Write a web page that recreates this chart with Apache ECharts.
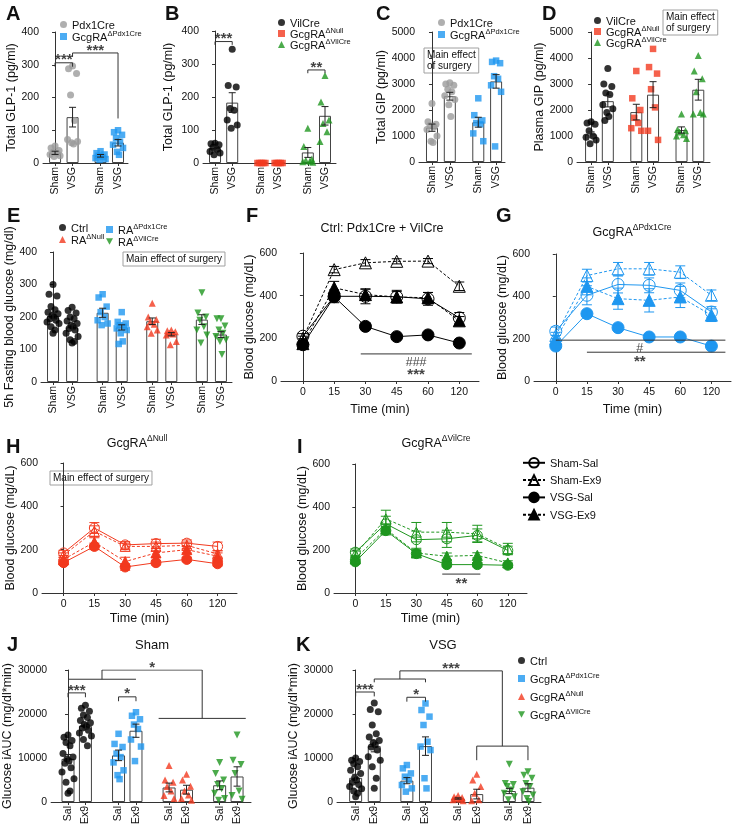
<!DOCTYPE html>
<html>
<head>
<meta charset="utf-8">
<script src="https://cdn.jsdelivr.net/npm/echarts@6/dist/echarts.min.js"></script>
<style>
  html, body { margin: 0; padding: 0; background: #fff; }
  #main { width: 734px; height: 839px; }
</style>
</head>
<body>
<div id="main"></div>
<script>
// ---------- data ----------
const surgery = ['Sham', 'VSG'];
const treatment = ['Sal', 'Ex9'];
const minutes = ['0', '15', '30', '45', '60', '120'];

// A: total GLP-1 (pg/ml)
const aNames = ['Pdx1Cre', 'GcgRAΔPdx1Cre'];
const aMean = [[31, 140], [22, 62]];
const aSem = [[5, 30], [4, 10]];
const aDots = [
  [[52, 46, 38, 33, 30, 26, 22, 20], [296, 288, 273, 208, 130, 72, 66, 62, 58]],
  [[36, 30, 26, 22, 18, 15, 12, 10], [100, 94, 86, 76, 65, 56, 46, 34, 25]]
];

// B: total GLP-1 (pg/ml)
const bNames = ['VilCre', 'GcgRAΔNull', 'GcgRAΔVilCre'];
const bMean = [[45, 183], [0, 0], [32, 143]];
const bSem = [[6, 30], [0, 0], [15, 28]];
const bDots = [
  [[60, 58, 55, 48, 42, 35, 30, 25], [345, 235, 230, 165, 160, 130, 115, 105]],
  [[0, 0, 0, 0, 0], [0, 0, 0, 0, 0]],
  [[105, 50, 12, 8, 5, 4, 2], [265, 185, 130, 120, 95, 65]]
];

// C: total GIP (pg/ml)
const cNames = ['Pdx1Cre', 'GcgRAΔPdx1Cre'];
const cMean = [[1320, 2530], [1530, 3100]];
const cSem = [[140, 150], [190, 260]];
const cDots = [
  [[2250, 1550, 1450, 1400, 1350, 1250, 1000, 800, 750], [3050, 3000, 2950, 2800, 2700, 2550, 2400, 2200, 1750]],
  [[2450, 1800, 1600, 1500, 1450, 1100, 800], [3900, 3850, 3800, 3300, 3200, 2950, 2700, 600]]
];

// D: plasma GIP (pg/ml)
const dNames = ['VilCre', 'GcgRAΔNull', 'GcgRAΔVilCre'];
const dMean = [[1060, 2340], [1920, 2590], [1230, 2780]];
const dSem = [[100, 220], [300, 500], [120, 400]];
const dDots = [
  [[1550, 1500, 1450, 1200, 1000, 950, 850, 700], [3600, 3000, 2900, 2650, 2600, 2200, 2050, 1900, 1750, 1600]],
  [[3500, 2450, 2000, 1700, 1500, 1300, 1200], [4350, 3650, 3400, 2800, 2100, 1200, 850]],
  [[1850, 1250, 1200, 1150, 1050, 1000, 900], [4100, 3500, 3200, 2700, 1900, 1850, 1850]]
];

// E: 5h fasting blood glucose (mg/dl)
const eNames = ['Ctrl', 'RAΔPdx1Cre', 'RAΔNull', 'RAΔVilCre'];
const eMean = [[203, 168], [213, 168], [187, 147], [192, 146]];
const eSem = [[10, 8], [14, 8], [10, 5], [15, 9]];
const eDots = [
  [[300, 270, 265, 232, 222, 215, 210, 205, 200, 195, 190, 185, 180, 170, 160, 150],
   [230, 220, 212, 200, 195, 188, 180, 175, 170, 165, 160, 150, 140, 130, 125, 120]],
  [[270, 260, 232, 215, 200, 190, 180, 175], [215, 185, 180, 175, 170, 165, 160, 150, 125, 117]],
  [[242, 200, 192, 185, 178, 170, 160, 150], [160, 158, 155, 150, 148, 145, 125, 115]],
  [[275, 212, 200, 190, 170, 160, 145, 120], [195, 195, 172, 160, 150, 140, 130, 125, 85]]
];

// F-I: blood glucose (mg/dL) over time; order Sham-Sal, Sham-Ex9, VSG-Sal, VSG-Ex9
const fMean = [[210, 397, 397, 395, 385, 296], [200, 522, 554, 561, 562, 444],
               [170, 395, 256, 208, 216, 178], [175, 437, 405, 394, 390, 282]];
const fSem = [[12, 30, 35, 30, 30, 25], [10, 15, 15, 12, 12, 20],
              [8, 15, 15, 10, 10, 8], [10, 30, 25, 25, 25, 20]];
const gMean = [[235, 405, 456, 452, 428, 326], [215, 498, 530, 530, 514, 405],
               [165, 318, 252, 208, 208, 165], [200, 447, 389, 381, 397, 311]];
const gSem = [[20, 45, 40, 35, 35, 25], [15, 30, 30, 30, 30, 25],
              [10, 12, 12, 10, 10, 8], [15, 40, 50, 55, 50, 30]];
const hMean = [[185, 300, 222, 228, 230, 215], [175, 285, 215, 215, 220, 180],
               [140, 215, 120, 140, 155, 135], [155, 235, 145, 185, 200, 170]];
const hSem = [[12, 25, 15, 20, 15, 20], [10, 25, 15, 20, 15, 15],
              [10, 15, 15, 10, 10, 10], [10, 20, 20, 20, 15, 15]];
const iMean = [[190, 322, 248, 252, 268, 198], [180, 345, 283, 283, 275, 206],
               [145, 290, 183, 132, 132, 129], [160, 298, 186, 171, 175, 140]];
const iSem = [[15, 35, 40, 40, 30, 20], [15, 40, 45, 45, 40, 25],
              [10, 20, 15, 10, 10, 10], [10, 20, 15, 15, 12, 10]];

// J, K: glucose iAUC (mg/dl*min)
const jkNames = ['Ctrl', 'GcgRAΔPdx1Cre', 'GcgRAΔNull', 'GcgRAΔVilCre'];
const jMean = [[9800, 17300], [10600, 16200], [3300, 2800], [3800, 5800]];
const jSem = [[1000, 700], [1200, 1500], [1000, 1000], [1000, 2200]];
const jDots = [
  [[15200, 14700, 14000, 13500, 12800, 11000, 10200, 9800, 9300, 8800, 7800, 6800, 5300, 4500, 2500, 2000],
   [22000, 21300, 20600, 19800, 19200, 18500, 18000, 17600, 17200, 16800, 16300, 15700, 15000, 14200, 12800]],
  [[15500, 13200, 12500, 11000, 10200, 9000, 7200, 6100, 5200], [20400, 19600, 18800, 17600, 16600, 14200, 12600, 9300]],
  [[8300, 5000, 4500, 3500, 2500, 1500, 800], [6300, 5000, 3600, 2500, 1600, 800, 400]],
  [[9000, 6500, 5000, 4000, 3000, 2000, 800, 400], [15200, 9500, 8500, 6500, 2500, 1500, 600]]
];
const kMean = [[5500, 12700], [4850, 12700], [800, 1800], [2500, 3250]];
const kSem = [[800, 1300], [700, 2100], [150, 1100], [600, 900]];
const kDots = [
  [[10000, 9500, 9200, 8700, 8000, 7200, 6500, 5500, 5000, 4500, 4000, 3500, 3000, 2500, 2000, 1200],
   [22500, 21000, 20500, 17500, 15500, 14800, 14000, 13500, 13000, 12500, 11800, 10300, 9500, 8000, 5400, 3100]],
  [[8400, 7650, 6500, 5750, 5000, 3860, 3100, 2350], [22400, 20900, 19400, 17500, 13700, 12600, 11800, 5400, 3100]],
  [[1500, 1200, 1000, 800, 600, 500, 300], [6300, 5000, 3500, 2000, 500, 300]],
  [[8600, 4200, 4000, 3500, 2700, 2000, 1200, 500], [6900, 6100, 5400, 4200, 3500, 2350, 1600, 800, 100]]
];

// ---------- styling ----------
const FONT = '"Liberation Sans", Arial, sans-serif';
const BLACK = '#000000', GRAY = '#9b9b9b', BLUE = '#1f97f0', RED = '#f23a1f', GREEN = '#1f961f';
const AXIS = '#333';
const TRI_DOWN = 'path://M0,0L10,0L5,9Z';
const RICH = {
  n: { fontSize: 11, fontFamily: FONT, color: '#111', lineHeight: 13, verticalAlign: 'bottom' },
  s: { fontSize: 7.5, fontFamily: FONT, color: '#111', lineHeight: 8, verticalAlign: 'top' }
};
const RICH_T = {
  n: { fontSize: 12.5, fontFamily: FONT, color: '#111', lineHeight: 16, verticalAlign: 'bottom' },
  s: { fontSize: 8.5, fontFamily: FONT, color: '#111', lineHeight: 9, verticalAlign: 'top' }
};
const JIT = [0, -4, 4, -2, 2, -5, 5, -1, 1, -3, 3, -6, 6, -2, 2, 0];

function richName(name) {
  const s = name.replace(/^[A-K]:/, '');
  const k = s.indexOf('Δ');
  return k < 0 ? '{n|' + s + '}' : '{n|' + s.slice(0, k) + '}{s|' + s.slice(k) + '}';
}

const option = {
  animation: false,
  backgroundColor: '#fff',
  textStyle: { fontFamily: FONT, color: '#111' },
  grid: [], xAxis: [], yAxis: [], series: [], legend: [], graphic: []
};

function addGrid(box) {
  option.grid.push({ left: box[0], top: box[1], width: box[2], height: box[3], containLabel: false });
  return option.grid.length - 1;
}

function addYAxis(gi, max, step, name, gap) {
  option.yAxis.push({
    gridIndex: gi, type: 'value', min: 0, max: max, interval: step,
    name: name, nameLocation: 'middle', nameGap: gap,
    nameTextStyle: { fontSize: 12.5, color: '#111', fontFamily: FONT },
    axisLine: { show: true, lineStyle: { color: AXIS, width: 1 } },
    axisTick: { show: true, length: 3, lineStyle: { color: AXIS } },
    axisLabel: { fontSize: 10.5, color: '#111', margin: 4, fontFamily: FONT, formatter: function (v) { return String(v); } },
    splitLine: { show: false }
  });
}

function symbolOf(s) {
  return s === 'tridown' ? TRI_DOWN : s;
}

function errorBars(cap, color, width) {
  return function (params, api) {
    const top = api.coord([api.value(0), api.value(2)]);
    const bot = api.coord([api.value(0), api.value(1)]);
    const h = cap / 2;
    const st = { stroke: color, lineWidth: width };
    return {
      type: 'group', children: [
        { type: 'line', shape: { x1: top[0], y1: top[1], x2: bot[0], y2: bot[1] }, style: st },
        { type: 'line', shape: { x1: top[0] - h, y1: top[1], x2: top[0] + h, y2: top[1] }, style: st },
        { type: 'line', shape: { x1: bot[0] - h, y1: bot[1], x2: bot[0] + h, y2: bot[1] }, style: st }
      ]
    };
  };
}

function addNotes(gi, paths, notes) {
  option.series.push({
    type: 'lines', coordinateSystem: 'cartesian2d', xAxisIndex: gi, yAxisIndex: gi,
    polyline: true, silent: true, z: 6,
    lineStyle: { color: '#333', width: 1, opacity: 1 },
    data: paths.map(function (c) { return { coords: c }; })
  });
  option.series.push({
    type: 'scatter', xAxisIndex: gi, yAxisIndex: gi, silent: true, z: 6,
    symbolSize: 0, itemStyle: { color: 'transparent' },
    data: notes.map(function (n) {
      return {
        value: [n.x, n.y],
        label: {
          show: true, formatter: n.t, position: n.below ? 'bottom' : 'top',
          distance: n.below ? 2 : -5, fontSize: n.t.indexOf('#') >= 0 ? 12.5 : 15,
          fontWeight: n.t.indexOf('#') >= 0 ? 'normal' : 'bold', color: '#111', fontFamily: FONT
        }
      };
    })
  });
}

// bar + dot panels
function dotBarPanel(cfg) {
  const gi = addGrid(cfg.box);
  const pos = [], labels = {};
  cfg.mean.forEach(function (grp, g) {
    grp.forEach(function (m, i) {
      const p = +(g * (grp.length + cfg.gap) + i).toFixed(2);
      pos.push(p);
      labels[p.toFixed(2)] = cfg.sub[i];
    });
  });
  option.xAxis.push({
    gridIndex: gi, type: 'value', min: -cfg.padL, max: pos[pos.length - 1] + cfg.padR,
    axisLine: { show: true, onZero: false, lineStyle: { color: AXIS, width: 1 } },
    axisTick: { show: true, length: 3, customValues: pos, lineStyle: { color: AXIS } },
    axisLabel: {
      customValues: pos, rotate: 90, fontSize: 10.5, color: '#111', margin: 4, fontFamily: FONT,
      formatter: function (v) { return labels[(+v).toFixed(2)] || ''; }
    },
    splitLine: { show: false }
  });
  addYAxis(gi, cfg.yMax, cfg.yStep, cfg.yName, cfg.nameGap);

  const barData = [], errData = [];
  let k = 0;
  cfg.mean.forEach(function (grp, g) {
    grp.forEach(function (m, i) {
      barData.push([pos[k], m]);
      const e = cfg.sem[g][i];
      if (e > 0) errData.push([pos[k], m - e, m + e]);
      k++;
    });
  });
  option.series.push({
    type: 'bar', xAxisIndex: gi, yAxisIndex: gi, data: barData, barWidth: cfg.barWidth || 12,
    itemStyle: { color: '#fff', borderColor: '#444', borderWidth: 1 }, silent: true, z: 1
  });
  cfg.dots.forEach(function (grp, g) {
    const data = [];
    grp.forEach(function (vals, i) {
      const p = pos[g * grp.length + i];
      vals.forEach(function (v, j) { data.push({ value: [p, v], symbolOffset: [JIT[j % JIT.length], 0] }); });
    });
    option.series.push({
      type: 'scatter', name: cfg.key + ':' + cfg.names[g], xAxisIndex: gi, yAxisIndex: gi,
      data: data, symbol: symbolOf(cfg.symbols[g]),
      symbolSize: cfg.symbols[g] === 'rect' ? 6.5 : 7,
      itemStyle: { color: cfg.colors[g] }, z: 2, silent: true
    });
  });
  option.series.push({
    type: 'custom', xAxisIndex: gi, yAxisIndex: gi, data: errData, z: 3, silent: true,
    encode: { x: 0, y: [1, 2] }, renderItem: errorBars(7, '#222', 1)
  });
  return { gi: gi, pos: pos };
}

const lineKinds = [
  { name: 'Sham-Sal', symbol: 'circle', filled: false, dashed: false },
  { name: 'Sham-Ex9', symbol: 'triangle', filled: false, dashed: true },
  { name: 'VSG-Sal', symbol: 'circle', filled: true, dashed: false },
  { name: 'VSG-Ex9', symbol: 'triangle', filled: true, dashed: true }
];

function linePanel(cfg) {
  const gi = addGrid(cfg.box);
  const ticks = minutes.map(function (m, i) { return i; });
  option.xAxis.push({
    gridIndex: gi, type: 'value', min: -0.7, max: 5.63,
    name: 'Time (min)', nameLocation: 'middle', nameGap: cfg.xGap,
    nameTextStyle: { fontSize: 12.5, color: '#111', fontFamily: FONT },
    axisLine: { show: true, onZero: false, lineStyle: { color: AXIS, width: 1 } },
    axisTick: { show: true, length: 3, customValues: ticks, lineStyle: { color: AXIS } },
    axisLabel: {
      customValues: ticks, fontSize: 10.5, color: '#111', margin: 6, fontFamily: FONT,
      formatter: function (v) { return minutes[Math.round(v)]; }
    },
    splitLine: { show: false }
  });
  addYAxis(gi, 600, 200, 'Blood glucose (mg/dL)', cfg.nameGap);
  lineKinds.forEach(function (kind, s) {
    option.series.push({
      type: 'line', name: cfg.key + ':' + kind.name, xAxisIndex: gi, yAxisIndex: gi,
      data: cfg.mean[s].map(function (v, i) { return [i, v]; }),
      symbol: kind.symbol, symbolSize: cfg.size, showAllSymbol: true,
      lineStyle: { color: cfg.color, width: 1, type: kind.dashed ? [3, 2] : 'solid' },
      itemStyle: { color: kind.filled ? cfg.color : 'rgba(255,255,255,0)', borderColor: cfg.color, borderWidth: 1 },
      z: kind.filled ? 3 : 2, silent: true
    });
    option.series.push({
      type: 'custom', xAxisIndex: gi, yAxisIndex: gi, z: 4, silent: true,
      data: cfg.mean[s].map(function (v, i) { return [i, v - cfg.sem[s][i], v + cfg.sem[s][i]]; }),
      encode: { x: 0, y: [1, 2] }, renderItem: errorBars(10, cfg.color, 1)
    });
  });
  return gi;
}

function pair(pos, a, b, y, ya, yb) {
  return [[pos[a], ya], [pos[a], y], [pos[b], y], [pos[b], yb]];
}

function addLegend(names, left, top, gap, extra) {
  option.legend.push(Object.assign({
    orient: 'vertical', left: left, top: top, itemGap: gap, itemWidth: 7, itemHeight: 7,
    data: names, formatter: richName, selectedMode: false, padding: 0,
    textStyle: { fontSize: 11, color: '#111', rich: RICH }
  }, extra || {}));
}

function addText(x, y, text, font, align, rich) {
  option.graphic.push({
    type: 'text', x: x, y: y, silent: true,
    style: { text: text, font: font, fill: '#111', textAlign: align || 'left', textVerticalAlign: 'top', rich: rich }
  });
}

function addBox(x, y, text) {
  option.graphic.push({
    type: 'text', x: x, y: y, silent: true,
    style: {
      text: text, font: '10px ' + FONT, fill: '#111', lineHeight: 11,
      padding: [2, 3, 1, 3], borderColor: '#a0a0a0', borderWidth: 1
    }
  });
}

// ---------- panels ----------
const A = dotBarPanel({ key: 'A', box: [43, 32, 85, 131], gap: 0.6, padL: 0.69, padR: 0.57,
  sub: surgery, names: aNames, mean: aMean, sem: aSem, dots: aDots,
  colors: [GRAY, BLUE], symbols: ['circle', 'rect'], yMax: 400, yStep: 100, yName: 'Total GLP-1 (pg/ml)', nameGap: 24 });
addNotes(A.gi, [pair(A.pos, 0, 1, 306, 294, 294), pair(A.pos, 1, 3, 336, 324, 136)],
  [{ x: (A.pos[0] + A.pos[1]) / 2, y: 306, t: '***' }, { x: (A.pos[1] + A.pos[3]) / 2, y: 336, t: '***' }]);

const B = dotBarPanel({ key: 'B', box: [203, 31, 133, 132], gap: 0.7, padL: 0.7, padR: 0.64,
  sub: surgery, names: bNames, mean: bMean, sem: bSem, dots: bDots,
  colors: [BLACK, RED, GREEN], symbols: ['circle', 'rect', 'triangle'], yMax: 400, yStep: 100, yName: 'Total GLP-1 (pg/ml)', nameGap: 28 });
addNotes(B.gi, [pair(B.pos, 0, 1, 368, 358, 358), pair(B.pos, 4, 5, 282, 272, 272)],
  [{ x: (B.pos[0] + B.pos[1]) / 2, y: 368, t: '***' }, { x: (B.pos[4] + B.pos[5]) / 2, y: 282, t: '**' }]);

dotBarPanel({ key: 'C', box: [419, 32, 86, 130], gap: 0.6, padL: 0.73, padR: 0.5,
  sub: surgery, names: cNames, mean: cMean, sem: cSem, dots: cDots,
  colors: [GRAY, BLUE], symbols: ['circle', 'rect'], yMax: 5000, yStep: 1000, yName: 'Total GIP (pg/ml)', nameGap: 30 });

dotBarPanel({ key: 'D', box: [577, 32, 133, 130], gap: 0.7, padL: 0.84, padR: 0.7,
  sub: surgery, names: dNames, mean: dMean, sem: dSem, dots: dDots,
  colors: [BLACK, RED, GREEN], symbols: ['circle', 'rect', 'triangle'], yMax: 5000, yStep: 1000, yName: 'Plasma GIP (pg/ml)', nameGap: 30 });

dotBarPanel({ key: 'E', box: [41, 252, 191, 130], gap: 0.6, padL: 0.63, padR: 0.58,
  sub: surgery, names: eNames, mean: eMean, sem: eSem, dots: eDots,
  colors: [BLACK, BLUE, RED, GREEN], symbols: ['circle', 'rect', 'triangle', 'tridown'],
  yMax: 400, yStep: 100, yName: '5h Fasting blood glucose (mg/dl)', nameGap: 22 });

const F = linePanel({ key: 'F', box: [281, 253, 198, 128], color: BLACK, mean: fMean, sem: fSem, size: 12, nameGap: 22, xGap: 22 });
addNotes(F, [[[1.85, 127], [5.4, 127]]], [{ x: 3.62, y: 127, t: '###', below: true }, { x: 3.62, y: 72, t: '***', below: true }]);

const G = linePanel({ key: 'G', box: [534, 254, 197, 127], color: BLUE, mean: gMean, sem: gSem, size: 12, nameGap: 24, xGap: 22 });
addNotes(G, [[[0, 193], [5.45, 193]], [[1, 136], [5.45, 136]]],
  [{ x: 2.7, y: 193, t: '#', below: true }, { x: 2.7, y: 136, t: '**', below: true }]);

const H = linePanel({ key: 'H', box: [42, 463, 195, 130], color: RED, mean: hMean, sem: hSem, size: 10, nameGap: 22, xGap: 19 });

const I = linePanel({ key: 'I', box: [334, 464, 193, 129], color: GREEN, mean: iMean, sem: iSem, size: 10, nameGap: 22, xGap: 19 });
addNotes(I, [[[2.85, 88], [4.1, 88]]], [{ x: 3.48, y: 88, t: '**', below: true }]);

const J = dotBarPanel({ key: 'J', box: [50, 670, 201, 132], gap: 0.9, padL: 0.97, padR: 0.8,
  sub: treatment, names: jkNames, mean: jMean, sem: jSem, dots: jDots,
  colors: [BLACK, BLUE, RED, GREEN], symbols: ['circle', 'rect', 'triangle', 'tridown'],
  yMax: 30000, yStep: 10000, yName: 'Glucose iAUC (mg/dl*min)', nameGap: 32, barWidth: 13 });
(function () {
  const p = J.pos;
  const l0 = p[0], l1 = p[3], r0 = p[4] - 0.6, r1 = p[7] + 0.5;
  const lm = (l0 + l1) / 2, rm = (r0 + r1) / 2;
  addNotes(J.gi, [
    pair(p, 0, 1, 24800, 23800, 23800), pair(p, 2, 3, 23900, 22900, 22900),
    [[l0, 27900], [l1, 27900]],
    [[lm, 27900], [lm, 30000], [rm, 30000], [rm, 19000]],
    [[r0, 19000], [r1, 19000]]
  ], [
    { x: (p[0] + p[1]) / 2, y: 24800, t: '***' }, { x: (p[2] + p[3]) / 2, y: 23900, t: '*' },
    { x: (lm + rm) / 2, y: 30000, t: '*' }
  ]);
})();

const K = dotBarPanel({ key: 'K', box: [337, 670, 204, 132], gap: 0.75, padL: 1.0, padR: 0.7,
  sub: treatment, names: jkNames, mean: kMean, sem: kSem, dots: kDots,
  colors: [BLACK, BLUE, RED, GREEN], symbols: ['circle', 'rect', 'triangle', 'tridown'],
  yMax: 30000, yStep: 10000, yName: 'Glucose iAUC (mg/dl*min)', nameGap: 30, barWidth: 13 });
(function () {
  const p = K.pos;
  const lm = (p[1] + p[3]) / 2, rm = (p[5] + p[7]) / 2;
  addNotes(K.gi, [
    pair(p, 0, 1, 25000, 24000, 24000), pair(p, 2, 3, 23800, 22800, 22800),
    pair(p, 1, 3, 27950, 27200, 27200),
    [[lm, 27950], [lm, 29800], [rm, 29800], [rm, 12700]],
    pair(p, 5, 7, 12700, 9500, 9500)
  ], [
    { x: (p[0] + p[1]) / 2, y: 25000, t: '***' }, { x: (p[2] + p[3]) / 2, y: 23800, t: '*' },
    { x: (lm + rm) / 2, y: 29800, t: '***' }
  ]);
})();

// ---------- legends ----------
addLegend(['A:Pdx1Cre', 'A:GcgRAΔPdx1Cre'], 60, 20, -1);
addLegend(['B:VilCre', 'B:GcgRAΔNull', 'B:GcgRAΔVilCre'], 278, 18, -2);
addLegend(['C:Pdx1Cre', 'C:GcgRAΔPdx1Cre'], 438, 18, -1);
addLegend(['D:VilCre', 'D:GcgRAΔNull', 'D:GcgRAΔVilCre'], 594, 16, -2);
addLegend(['E:Ctrl', 'E:RAΔNull'], 59, 223, -1);
addLegend(['E:RAΔPdx1Cre', 'E:RAΔVilCre'], 106, 223, -1);
addLegend(['K:Ctrl', 'K:GcgRAΔPdx1Cre', 'K:GcgRAΔNull', 'K:GcgRAΔVilCre'], 518, 656, 5);
addLegend(['F:Sham-Sal', 'F:Sham-Ex9', 'F:VSG-Sal', 'F:VSG-Ex9'], 522, 457, 5,
  { itemWidth: 22, itemHeight: 12 });

// ---------- panel letters, titles, boxes ----------
const LETTER = 'bold 20px ' + FONT;
[['A', 6, 4], ['B', 165, 4], ['C', 376, 4], ['D', 542, 4], ['E', 7, 206], ['F', 246, 206],
 ['G', 496, 206], ['H', 6, 437], ['I', 297, 437], ['J', 7, 635], ['K', 296, 635]].forEach(function (l) {
  addText(l[1], l[2], l[0], LETTER);
});
addText(382, 222, 'Ctrl: Pdx1Cre + VilCre', '12.5px ' + FONT, 'center');
addText(632, 223, '{n|GcgRA}{s|ΔPdx1Cre}', '12.5px ' + FONT, 'center', RICH_T);
addText(137, 434, '{n|GcgRA}{s|ΔNull}', '12.5px ' + FONT, 'center', RICH_T);
addText(436, 434, '{n|GcgRA}{s|ΔVilCre}', '12.5px ' + FONT, 'center', RICH_T);
addText(152, 639, 'Sham', '13px ' + FONT, 'center');
addText(443, 639, 'VSG', '13px ' + FONT, 'center');

addBox(424, 48, 'Main effect\nof surgery');
addBox(663, 10, 'Main effect\nof surgery');
addBox(123, 252, 'Main effect of surgery');
addBox(50, 471, 'Main effect of surgery');

const chart = echarts.init(document.getElementById('main'));
chart.setOption(option);
</script>
</body>
</html>
